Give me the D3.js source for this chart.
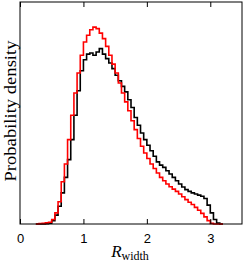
<!DOCTYPE html>
<html>
<head>
<meta charset="utf-8">
<script src="https://cdn.jsdelivr.net/npm/d3@7"></script>
<style>
    body { margin: 0; background: #fff; }
    svg text { fill: #000; }
</style>
</head>
<body>
<script>
// histogram bins (left edges) and the two densities
var binWidth = 0.05;
var binEdges = d3.range(0.25, 3.2, binWidth).map(function(d) { return +d.toFixed(2); });

var redDensity = [
    0.0, 0.002, 0.003, 0.005, 0.008, 0.02, 0.05, 0.10, 0.19, 0.27,
    0.38, 0.49, 0.59, 0.68, 0.76, 0.82, 0.85, 0.875, 0.887, 0.88,
    0.86, 0.835, 0.80, 0.76, 0.72, 0.68, 0.635, 0.59, 0.55, 0.51,
    0.465, 0.425, 0.385, 0.35, 0.32, 0.295, 0.27, 0.25, 0.23, 0.21,
    0.195, 0.18, 0.168, 0.157, 0.147, 0.135, 0.123, 0.11, 0.098, 0.088,
    0.075, 0.062, 0.048, 0.032, 0.015, 0.003, 0, 0, 0
];
var blackDensity = [
    0, 0, 0, 0.001, 0.004, 0.015, 0.04, 0.08, 0.14, 0.21,
    0.29, 0.38, 0.49, 0.60, 0.69, 0.74, 0.765, 0.77, 0.76, 0.775,
    0.79, 0.765, 0.745, 0.725, 0.70, 0.67, 0.645, 0.62, 0.595, 0.56,
    0.525, 0.48, 0.445, 0.41, 0.38, 0.355, 0.33, 0.305, 0.28, 0.265,
    0.255, 0.24, 0.225, 0.21, 0.195, 0.18, 0.167, 0.155, 0.147, 0.14,
    0.135, 0.13, 0.125, 0.115, 0.085, 0.05, 0.02, 0.004, 0
];
var xTicks = [0, 1, 2, 3];

var margin = {top: 2, right: 3, bottom: 39, left: 20},
    width = 245 - margin.left - margin.right,
    height = 263 - margin.top - margin.bottom;

var x = d3.scaleLinear().domain([0, 3.5]).range([0, width]);
var y = d3.scaleLinear().domain([0, 1]).range([height, 0]);

var svg = d3.select("body").append("svg")
    .attr("width", 245)
    .attr("height", 263)
    .append("g")
    .attr("transform", "translate(" + margin.left + "," + margin.top + ")");

// step line, closing each histogram with its last bin edge
function steps(vals) {
    var pts = binEdges.map(function(e, i) { return [e, vals[i]]; });
    pts.push([binEdges[binEdges.length - 1] + binWidth, vals[vals.length - 1]]);
    return pts;
}

var line = d3.line()
    .x(function(d) { return x(d[0]); })
    .y(function(d) { return y(d[1]); })
    .curve(d3.curveStepAfter);

svg.append("path")
    .datum(steps(blackDensity))
    .attr("d", line)
    .attr("fill", "none")
    .attr("stroke", "#000")
    .attr("stroke-width", 1.6);

svg.append("path")
    .datum(steps(redDensity))
    .attr("d", line)
    .attr("fill", "none")
    .attr("stroke", "#ff0000")
    .attr("stroke-width", 1.6);

// frame
svg.append("rect")
    .attr("x", 0).attr("y", 0)
    .attr("width", width).attr("height", height)
    .attr("fill", "none")
    .attr("stroke", "#000")
    .attr("stroke-width", 1);

// bottom axis with inward ticks
var bottomAxis = svg.append("g")
    .attr("transform", "translate(0," + height + ")")
    .call(d3.axisBottom(x).tickValues(xTicks).tickFormat(d3.format("d"))
        .tickSizeInner(-5).tickSizeOuter(0).tickPadding(10));
bottomAxis.select(".domain").remove();
bottomAxis.selectAll("text")
    .attr("font-family", "Liberation Sans, Arial, sans-serif")
    .attr("font-size", 13);

// top ticks only
var topAxis = svg.append("g")
    .call(d3.axisTop(x).tickValues(xTicks).tickSizeInner(-5).tickSizeOuter(0).tickFormat(""));
topAxis.select(".domain").remove();

// axis labels
var xl = svg.append("text")
    .attr("x", 110)
    .attr("y", height + 33)
    .attr("text-anchor", "middle")
    .attr("font-family", "Liberation Serif, serif")
    .attr("font-size", 17);
xl.append("tspan").attr("font-style", "italic").text("R");
xl.append("tspan").attr("font-size", 12).attr("dy", 3).text("width");

svg.append("text")
    .attr("transform", "translate(-4," + 109 + ") rotate(-90)")
    .attr("text-anchor", "middle")
    .attr("font-family", "Liberation Serif, serif")
    .attr("font-size", 17)
    .attr("textLength", 141)
    .attr("lengthAdjust", "spacingAndGlyphs")
    .text("Probability density");
</script>
</body>
</html>
